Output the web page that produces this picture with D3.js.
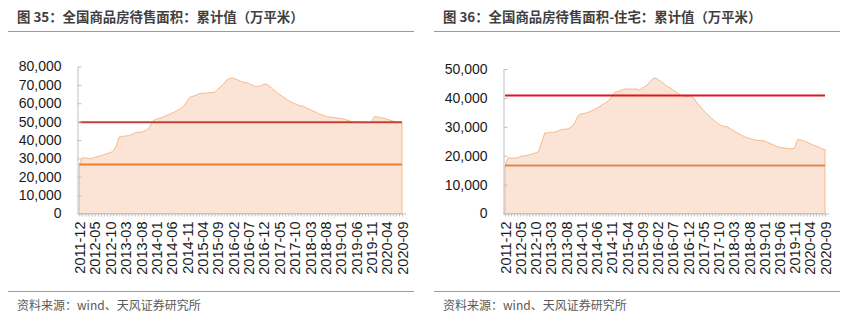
<!DOCTYPE html>
<html><head><meta charset="utf-8">
<script src="https://cdn.jsdelivr.net/npm/d3@7"></script>
<style>
html,body{margin:0;padding:0;background:#fff;}
svg{display:block;}
</style></head>
<body>
<svg id="chart" width="857" height="323"></svg>
<script>
// ---- data ----
const startMonth = "2011-12";
const monthCount = 106;
const tickLabels = ["2011-12","2012-05","2012-10","2013-03","2013-08","2014-01","2014-06","2014-11","2015-04","2015-09","2016-02","2016-07","2016-12","2017-05","2017-10","2018-03","2018-08","2019-01","2019-06","2019-11","2020-04","2020-09"];

const totalStock = [26700,30360,30180,29800,30000,30540,31090,31450,32000,32540,33090,33800,36500,41630,41800,42180,42360,42900,43800,44180,44180,44720,45450,47270,50360,51270,51810,52360,53090,53630,54540,55270,56180,57270,58540,60900,63270,63810,64360,65270,65450,65450,65630,65810,66000,67630,69090,70540,72720,73630,73630,73090,72360,71630,71270,70900,70000,69270,69090,69450,70360,70360,69090,67630,66180,64900,63810,62720,61630,60540,59810,59090,58540,58360,57270,56540,55810,55090,54180,53630,53090,52540,52360,52180,52000,51810,51450,50900,50360,49810,49630,49450,49450,49450,49450,49630,52720,52540,52180,51810,51450,50900,50360,50000,49630,49450];
const totalRefHigh = 49600;
const totalRefLow = 26700;

const resStock = [16600,19260,19140,19140,19260,19720,19950,20060,20290,20640,20980,21450,24440,27790,27900,28130,28130,28360,28830,29170,29170,29400,30210,31590,33900,34480,34590,34940,35280,35860,36430,37010,37700,38280,38970,40360,41970,42200,42550,43010,43120,43010,43010,43120,42660,43350,43930,44850,46120,46930,46580,45770,45080,44100,43580,42890,42200,41390,40820,40470,40470,40820,39890,38280,37130,35860,34710,33670,32750,31820,31020,30440,30090,29980,29290,28710,28020,27440,26860,26400,26060,25710,25480,25250,25250,25140,24670,24210,23750,23290,22950,22710,22600,22480,22370,22600,25600,25480,25140,24670,24210,23750,23290,22950,22370,22140];
const resRefHigh = 40800;
const resRefLow = 16600;

const totalYTicks = [0,10000,20000,30000,40000,50000,60000,70000,80000];
const resYTicks = [0,10000,20000,30000,40000,50000];

const titles = ["图 35：全国商品房待售面积：累计值（万平米）", "图 36：全国商品房待售面积-住宅：累计值（万平米）"];
const sourceText = "资料来源：wind、天风证券研究所";

// categories (months)
const parse = d3.timeParse("%Y-%m");
const fmt = d3.timeFormat("%Y-%m");
const months = d3.timeMonth.range(parse(startMonth), d3.timeMonth.offset(parse(startMonth), monthCount)).map(fmt);

const svg = d3.select("#chart");
const latin = "'Liberation Sans', Arial, sans-serif";
const cjk = "'Noto Sans CJK SC', 'Noto Sans', sans-serif";

function panel(cfg) {
  const g = svg.append("g");
  g.append("text").attr("x", cfg.left + 9).attr("y", 22)
    .attr("font-family", cjk).attr("font-weight", "bold").attr("font-size", 13.4)
    .attr("fill", "#3f3f3f").text(cfg.title);
  g.append("line").attr("x1", cfg.left).attr("x2", cfg.right).attr("y1", 31.5).attr("y2", 31.5)
    .attr("stroke", "#e3893d").attr("stroke-width", 1.2);
  g.append("line").attr("x1", cfg.left).attr("x2", cfg.right).attr("y1", 291.5).attr("y2", 291.5)
    .attr("stroke", "#f08a2a").attr("stroke-width", 1.2);
  g.append("text").attr("x", cfg.left + 9).attr("y", 310)
    .attr("font-family", cjk).attr("font-size", 12).attr("fill", "#595959").text(sourceText);

  const x = d3.scalePoint().domain(months).range([cfg.x0, cfg.x1]);
  const y = d3.scaleLinear().domain([0, cfg.yMax]).range([cfg.yBottom, cfg.yTop]);

  const area = d3.area().x((d, i) => x(months[i])).y0(y(0)).y1(d => y(d));
  g.append("path").datum(cfg.values).attr("d", area)
    .attr("fill", "#fbe4d5").attr("stroke", "#f6b98c").attr("stroke-width", 1)
    .attr("stroke-linejoin", "round");

  [[cfg.refHigh, cfg.redColor], [cfg.refLow, cfg.orangeColor]].forEach(([v, c]) => {
    g.append("path").datum([months[0], months[months.length - 1]])
      .attr("d", d3.line().x(d => x(d)).y(() => y(v)))
      .attr("stroke", c).attr("stroke-width", 2).attr("fill", "none");
  });

  const ya = g.append("g").attr("transform", `translate(${cfg.axisX},0)`)
    .call(d3.axisLeft(y).tickValues(cfg.yTicks).tickFormat(d3.format(",")).tickSizeInner(-4).tickSizeOuter(0).tickPadding(16));
  ya.select(".domain").attr("stroke", "#bfbfbf");
  ya.selectAll(".tick line").attr("stroke", "#bfbfbf");
  ya.selectAll("text").attr("font-family", latin).attr("font-size", 14).attr("fill", "#1a1a1a");

  const xa = g.append("g").attr("transform", `translate(0,${cfg.yBottom})`)
    .call(d3.axisBottom(x).tickSizeInner(3).tickSizeOuter(0)
      .tickFormat(d => tickLabels.includes(d) ? d : ""));
  xa.select(".domain").attr("d", `M${cfg.axisX},0.5H${cfg.x1 + 4}`).attr("stroke", "#bfbfbf");
  xa.selectAll(".tick line").attr("stroke", "#bfbfbf");
  xa.selectAll("text").attr("font-family", latin).attr("font-size", 14.5).attr("fill", "#1a1a1a")
    .attr("transform", "rotate(-90)").attr("x", -8).attr("y", 0).attr("dy", "0.36em")
    .style("text-anchor", "end");
}

panel({ left: 8, right: 414, title: titles[0], values: totalStock, yMax: 80000, yTicks: totalYTicks,
  x0: 79.3, x1: 402, axisX: 77.5, yTop: 66.5, yBottom: 213.5,
  refHigh: totalRefHigh, refLow: totalRefLow, redColor: "#c4413a", orangeColor: "#ee7f30" });
panel({ left: 434, right: 840, title: titles[1], values: resStock, yMax: 50000, yTicks: resYTicks,
  x0: 505, x1: 825, axisX: 503.5, yTop: 69, yBottom: 213.5,
  refHigh: resRefHigh, refLow: resRefLow, redColor: "#e0141e", orangeColor: "#dc8a55" });
</script>
</body></html>
